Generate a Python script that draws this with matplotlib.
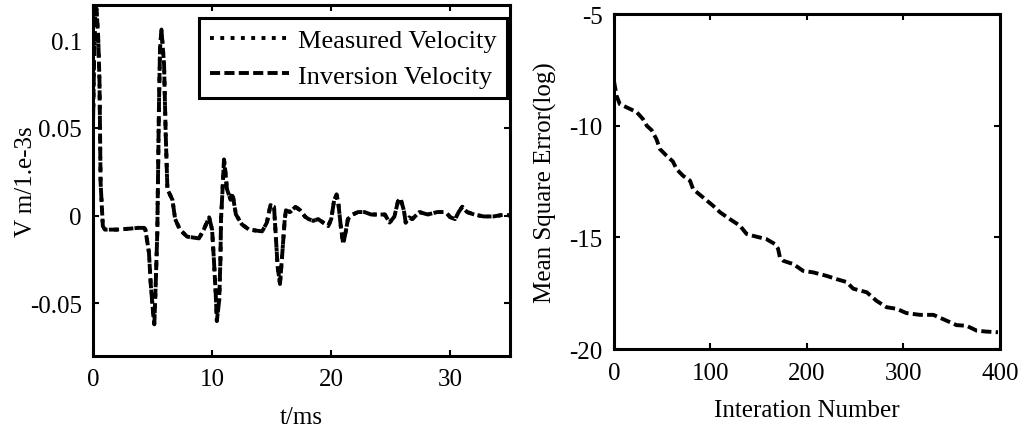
import matplotlib
matplotlib.use("Agg")
import matplotlib.pyplot as plt
from matplotlib.ticker import FuncFormatter

plt.rcParams['font.family'] = ['Liberation Serif', 'DejaVu Serif']
plt.rcParams['axes.unicode_minus'] = False
plt.rcParams['font.size'] = 18

# velocity trace (t in ms)
t_ms = [0.0, 0.1, 0.2, 0.3, 0.45, 0.55, 0.64, 0.83, 1.0, 2.0, 3.0, 3.8, 4.3, 4.4,
        4.7, 4.85, 5.08, 5.15, 5.25, 5.4, 5.5, 5.55, 5.63, 5.75, 5.97, 6.1, 6.25,
        6.67, 6.9, 7.3, 7.9, 8.9, 9.3, 9.75, 10.0, 10.15, 10.3, 10.4, 10.6, 10.7,
        10.75, 10.85, 11.0, 11.1, 11.25, 11.55, 11.7, 12.0, 12.5, 13.1, 14.2, 14.6,
        14.9, 15.2, 15.35, 15.5, 15.7, 15.9, 16.1, 16.2, 16.55, 17.0, 17.4, 17.8,
        18.1, 18.5, 18.9, 19.75, 20.0, 20.25, 20.45, 20.6, 20.8, 21.0, 21.2, 21.4,
        21.8, 22.25, 22.8, 23.35, 24.5, 24.9, 25.3, 25.6, 25.8, 26.1, 26.25, 26.55,
        26.8, 27.4, 28.1, 28.9, 29.6, 30.0, 30.4, 30.7, 31.0, 31.4, 32.0, 32.8,
        33.6, 34.6, 35.0]
measured_v = [0.05, 0.09, 0.115, 0.118, 0.10, 0.076, 0.019, -0.006, -0.008, -0.008,
              -0.0075, -0.007, -0.007, -0.008, -0.021, -0.039, -0.058, -0.062, -0.043,
              -0.01, 0.042, 0.067, 0.095, 0.106, 0.086, 0.048, 0.015, 0.009, -0.002,
              -0.008, -0.012, -0.013, -0.008, -0.001, -0.008, -0.025, -0.044, -0.060,
              -0.048, -0.025, -0.002, 0.011, 0.032, 0.026, 0.015, 0.009, 0.013, 0.0006,
              -0.005, -0.008, -0.009, -0.004, 0.006, 0.005, -0.012, -0.029, -0.039,
              -0.021, -0.002, 0.003, 0.002, 0.005, 0.003, -0.0006, -0.002, -0.003,
              -0.002, -0.006, -0.002, 0.009, 0.012, 0.007, -0.006, -0.016, -0.010,
              -0.002, 0.0006, 0.002, 0.002, 0.0006, 0.0006, -0.004, -0.0006, 0.008,
              0.010, 0.003, -0.004, -0.001, -0.002, 0.002, 0.0006, 0.002, 0.002,
              -0.001, -0.002, 0.002, 0.005, 0.002, 0.0006, -0.0005, -0.0005, 0.0006, 0.0]
# inversion result lies on top of the measurement at this scale
inversion_v = list(measured_v)

# convergence curve, right panel
iters = [0, 2.7, 6, 16.6, 23.5, 30, 34, 39, 44, 47.7, 54.6, 61, 65, 71.5, 78.8, 82,
         92, 102.6, 110, 120, 130.6, 137.5, 144, 158, 166.8, 170, 172, 175.5, 186,
         196, 206.6, 220, 230.7, 241, 248, 262, 272, 282.6, 293, 303, 317, 331, 341,
         355, 365.5, 376, 386, 398]
mse_log = [-8.0, -8.66, -9.03, -9.25, -9.39, -9.7, -10.0, -10.2, -10.6, -11.05, -11.35,
           -11.6, -11.95, -12.24, -12.46, -12.84, -13.2, -13.58, -13.88, -14.18, -14.48,
           -14.85, -14.93, -15.08, -15.3, -15.5, -15.9, -16.05, -16.2, -16.5, -16.57,
           -16.72, -16.87, -17.0, -17.3, -17.46, -17.84, -18.13, -18.2, -18.39, -18.47,
           -18.47, -18.66, -18.93, -18.96, -19.18, -19.22, -19.25]

fig = plt.figure(figsize=(10.26, 4.27), dpi=100)
ax1 = fig.add_axes([0.0906, 0.164, 0.4064, 0.822])
ax2 = fig.add_axes([0.5984, 0.1803, 0.3762, 0.7845])

dash = (2.6, 1.1)
ax1.plot(t_ms, measured_v, color='black', linestyle=':', lw=2.8, label='Measured Velocity')
ax1.plot(t_ms, inversion_v, color='black', lw=2.8, dashes=dash, label='Inversion Velocity')
ax1.set_xlim(0, 35)
ax1.set_ylim(-0.08, 0.12)
ax1.set_xticks([0, 10, 20, 30])
ax1.set_yticks([-0.05, 0, 0.05, 0.1])
ax1.yaxis.set_major_formatter(FuncFormatter(lambda v, p: '%g' % round(v, 4)))
ax1.set_xlabel('t/ms', labelpad=11)
ax1.set_ylabel('V m/1.e-3s', labelpad=-5.5)
leg = ax1.legend(loc='upper right', bbox_to_anchor=(1.0, 0.97), fancybox=False,
                 framealpha=1, edgecolor='black', fontsize=19, handlelength=3.0,
                 borderpad=0.4, labelspacing=0.45, handletextpad=0.35, borderaxespad=0.1)
leg.get_frame().set_linewidth(2.2)

ax2.plot(iters, mse_log, color='black', lw=2.8, dashes=dash)
ax2.set_xlim(0, 400)
ax2.set_ylim(-20, -5)
ax2.set_xticks([0, 100, 200, 300, 400])
ax2.set_yticks([-20, -15, -10, -5])
ax2.set_xlabel('Interation Number', labelpad=11)
ax2.set_ylabel('Mean Square Error(log)', labelpad=9)

for ax in (ax1, ax2):
    for s in ax.spines.values():
        s.set_linewidth(2.2)
    ax.tick_params(direction='in', top=True, right=True, length=4, width=1.5)
    ax.tick_params(axis='x', pad=9)
    ax.tick_params(axis='y', pad=8)

fig.savefig('out.png', dpi=100)
